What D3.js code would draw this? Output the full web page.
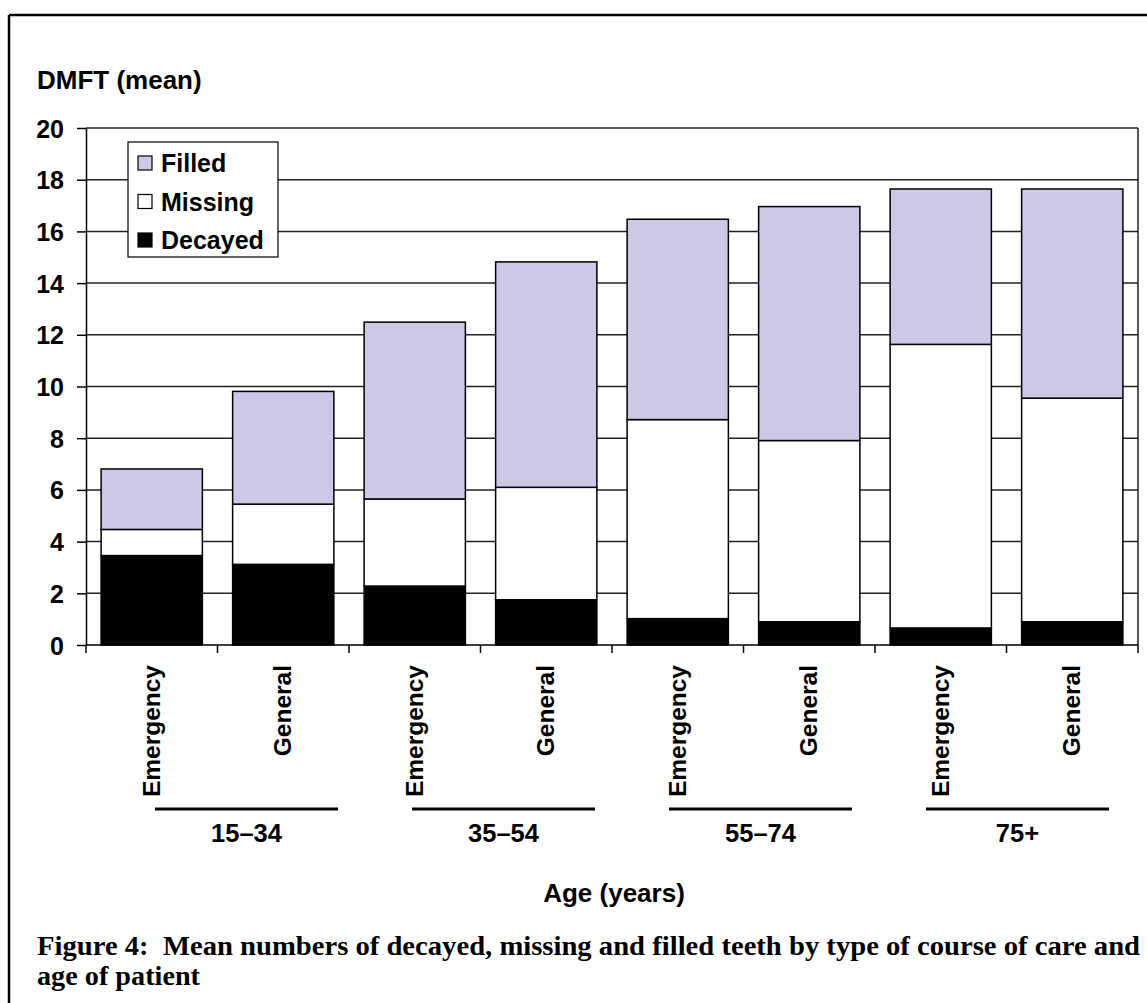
<!DOCTYPE html>
<html>
<head>
<meta charset="utf-8">
<script src="https://cdn.jsdelivr.net/npm/d3@7"></script>
<style>
  html, body { margin: 0; padding: 0; background: #fff; }
  svg { display: block; }
  text { font-family: "Liberation Sans", Arial, sans-serif; font-weight: bold; fill: #000; }
  .cap { font-family: "Liberation Serif", "Times New Roman", serif; font-weight: bold; white-space: pre; }
</style>
</head>
<body>
<svg id="chart" width="1147" height="1003"></svg>
<script>
// ---- data ----
const careTypes = ["Emergency", "General", "Emergency", "General", "Emergency", "General", "Emergency", "General"];
const ageGroups = ["15–34", "35–54", "55–74", "75+"];
const decayed = [3.46, 3.12, 2.28, 1.75, 1.02, 0.90, 0.66, 0.90];
const missing = [1.01, 2.33, 3.37, 4.35, 7.70, 7.01, 10.97, 8.65];
const filled  = [2.34, 4.36, 6.84, 8.72, 7.75, 9.05, 6.01, 8.09];
const seriesNames = ["Decayed", "Missing", "Filled"];
const seriesColors = { Decayed: "#000000", Missing: "#ffffff", Filled: "#cbc9e5" };
const yTicks = [0, 2, 4, 6, 8, 10, 12, 14, 16, 18, 20];
const yTitle = "DMFT (mean)";
const xTitle = "Age (years)";
const caption = ["Figure 4:  Mean numbers of decayed, missing and filled teeth by type of course of care and",
                 "age of patient"];

(function () {
// ---- layout ----
const svg = d3.select("#chart");
const pL = 86, pR = 1138, pT = 128, pB = 645;

const rows = careTypes.map((c, i) => ({ key: i, care: c, Decayed: decayed[i], Missing: missing[i], Filled: filled[i] }));

const x = d3.scaleBand().domain(rows.map(d => d.key)).range([pL, pR])
  .paddingInner(0.23).paddingOuter(0.115);
const y = d3.scaleLinear().domain([0, 20]).range([pB, pT]);

// outer frame (top + left)
svg.append("line").attr("x1", 9).attr("x2", 1147).attr("y1", 15).attr("y2", 15)
  .attr("stroke", "#000").attr("stroke-width", 2.5);
svg.append("line").attr("x1", 9).attr("x2", 9).attr("y1", 15).attr("y2", 1003)
  .attr("stroke", "#000").attr("stroke-width", 2.5);

// gridlines
svg.append("g").selectAll("line").data(yTicks.filter(t => t > 0)).join("line")
  .attr("x1", pL).attr("x2", pR)
  .attr("y1", d => y(d)).attr("y2", d => y(d))
  .attr("stroke", "#222").attr("stroke-width", 1.5);

// plot right border
svg.append("line").attr("x1", pR).attr("x2", pR).attr("y1", pT).attr("y2", pB)
  .attr("stroke", "#222").attr("stroke-width", 1.5);

// stacked bars
const stacked = d3.stack().keys(seriesNames)(rows);
svg.append("g").selectAll("g").data(stacked).join("g")
  .attr("fill", s => seriesColors[s.key])
  .selectAll("rect").data(s => s).join("rect")
  .attr("x", d => x(d.data.key))
  .attr("width", x.bandwidth())
  .attr("y", d => y(d[1]))
  .attr("height", d => y(d[0]) - y(d[1]))
  .attr("stroke", "#000").attr("stroke-width", 1.5);

// y axis
const yAxis = svg.append("g").attr("transform", `translate(${pL},0)`)
  .call(d3.axisLeft(y).tickValues(yTicks).tickSize(9).tickSizeOuter(0).tickPadding(13));
yAxis.attr("font-family", null).attr("font-size", null);
yAxis.select(".domain").attr("stroke", "#000").attr("stroke-width", 1.5);
yAxis.selectAll(".tick line").attr("stroke", "#000").attr("stroke-width", 1.5);
yAxis.selectAll(".tick text").attr("font-size", 25).attr("dy", "0.36em");

// x axis baseline with ticks at band boundaries
svg.append("line").attr("x1", pL).attr("x2", pR).attr("y1", pB).attr("y2", pB)
  .attr("stroke", "#000").attr("stroke-width", 1.5);
const bounds = rows.map(d => x(d.key) - x.step() * x.paddingInner() / 2).concat([pR]);
svg.append("g").selectAll("line").data(bounds).join("line")
  .attr("x1", d => d).attr("x2", d => d).attr("y1", pB).attr("y2", pB + 8)
  .attr("stroke", "#000").attr("stroke-width", 1.5);

// rotated category labels
svg.append("g").selectAll("text").data(rows).join("text")
  .attr("transform", d => `translate(${x(d.key) + x.bandwidth() / 2 + 8},665) rotate(-90)`)
  .attr("text-anchor", "end").attr("font-size", 24.5)
  .text(d => d.care);

// age groups: lines + labels (annotation placed slightly right of each group centre)
const groupStep = x.step() * 2;
ageGroups.forEach((g, i) => {
  const gx0 = pL + i * groupStep;
  const cx = gx0 + groupStep / 2 + 29 - 6 * i;
  svg.append("line").attr("x1", cx - 91.5).attr("x2", cx + 91.5).attr("y1", 809).attr("y2", 809)
    .attr("stroke", "#000").attr("stroke-width", 3);
  svg.append("text").attr("x", cx).attr("y", 842).attr("text-anchor", "middle")
    .attr("font-size", 25.5).text(g);
});

// titles
svg.append("text").attr("x", 37).attr("y", 89).attr("font-size", 26).text(yTitle);
svg.append("text").attr("x", 614).attr("y", 902).attr("text-anchor", "middle")
  .attr("font-size", 26).text(xTitle);

// legend
const lg = svg.append("g");
lg.append("rect").attr("x", 128).attr("y", 142).attr("width", 150).attr("height", 115)
  .attr("fill", "#fff").attr("stroke", "#000").attr("stroke-width", 1.2);
const legendOrder = ["Filled", "Missing", "Decayed"];
legendOrder.forEach((k, i) => {
  const cy = 163 + i * 38.5;
  lg.append("rect").attr("x", 138).attr("y", cy - 7).attr("width", 14).attr("height", 14)
    .attr("fill", seriesColors[k]).attr("stroke", "#000").attr("stroke-width", 1.2);
  lg.append("text").attr("x", 161).attr("y", cy).attr("dy", "0.36em")
    .attr("font-size", 25).text(k);
});

// caption
svg.append("text").attr("class", "cap").attr("x", 37).attr("y", 955).attr("font-size", 26.5)
  .attr("textLength", 1103).attr("lengthAdjust", "spacingAndGlyphs").text(caption[0]);
svg.append("text").attr("class", "cap").attr("x", 37).attr("y", 985).attr("font-size", 26.5)
  .attr("textLength", 163).attr("lengthAdjust", "spacingAndGlyphs").text(caption[1]);
})();
</script>
</body>
</html>
